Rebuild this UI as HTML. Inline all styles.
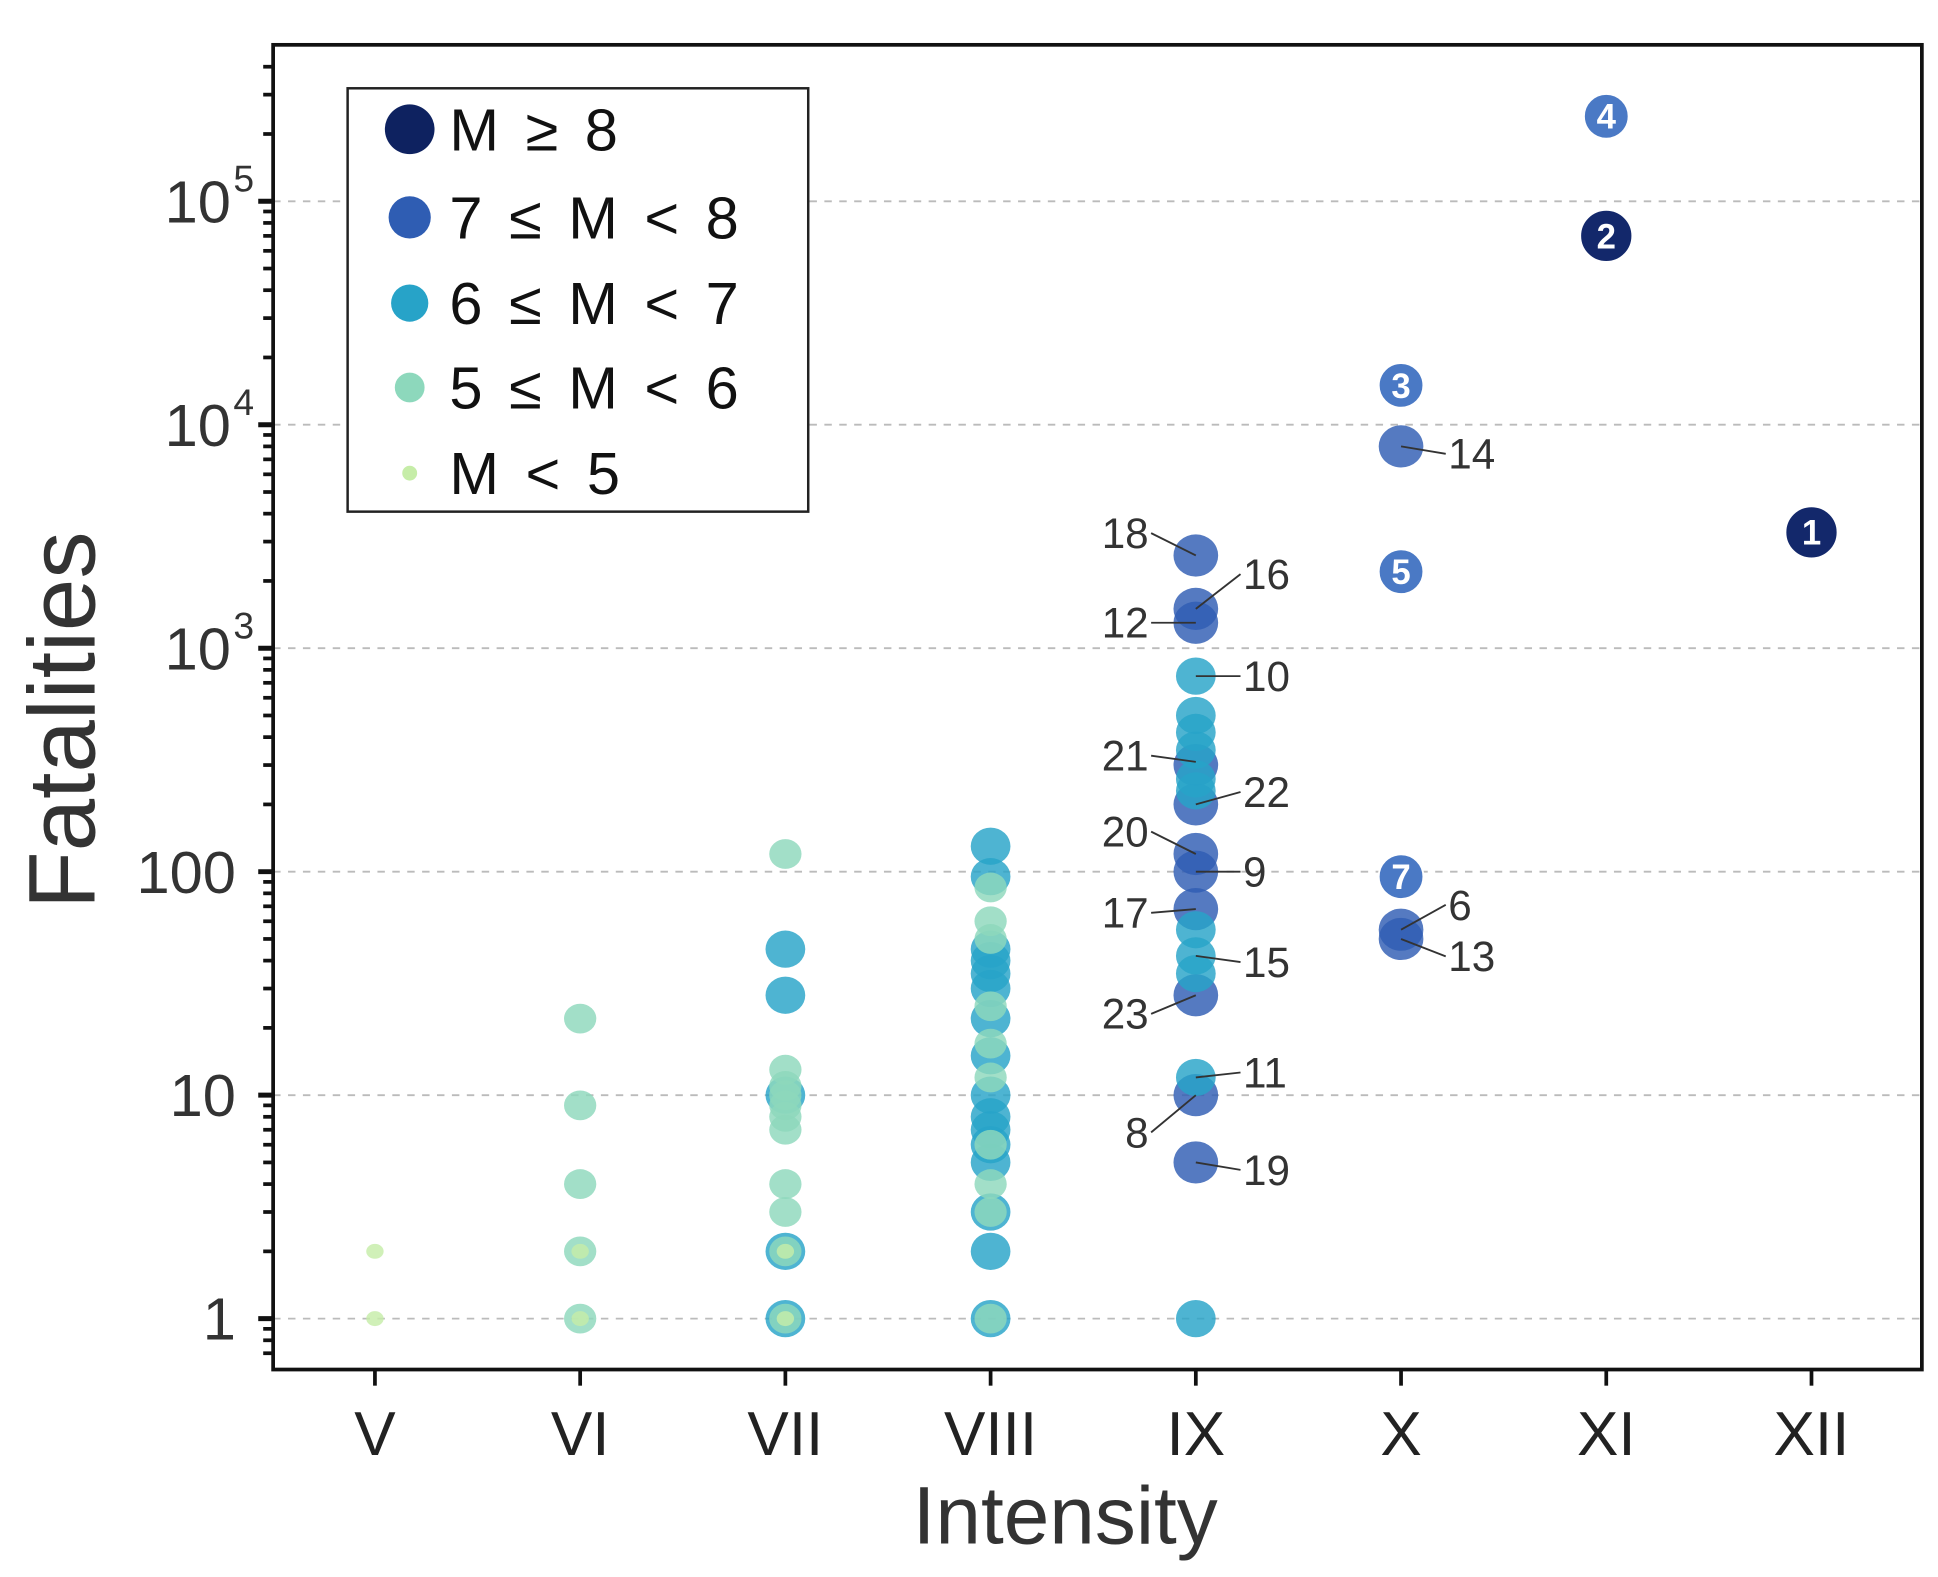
<!DOCTYPE html>
<html><head><meta charset="utf-8"><style>
html,body{margin:0;padding:0;background:#fff;}
svg{display:block;}
text{font-family:"Liberation Sans",sans-serif;}
</style></head><body>
<svg id="chart" width="1938" height="1577" viewBox="0 0 1561 1270" xmlns="http://www.w3.org/2000/svg">
<g id="grid"></g>
<g id="marks"></g>
<g id="annots"></g>
<rect x="220" y="36" width="1328" height="1067" fill="none" stroke="#111" stroke-width="3"/>
<g id="axes"></g>
<text transform="translate(76,580) rotate(-90)" text-anchor="middle" font-size="76" fill="#333">Fatalities</text>
<text x="858" y="1243" text-anchor="middle" font-size="66" fill="#333">Intensity</text>
<g>
<rect x="280" y="71" width="371" height="341" fill="#fff" stroke="#222" stroke-width="2"/>
<g id="legendItems"></g>
</g>
</svg>
<script>
const categories = ["V","VI","VII","VIII","IX","X","XI","XII"];
const classLabels = ["M \u2265  8","7 \u2264 M  <  8","6 \u2264 M  <  7","5 \u2264 M  <  6","M  <  5"];
const yTickValues = [1,10,100,1000,10000,100000];
const yTickLabels = ["1","10","100","10","10","10"];
const yTickExp = ["","","","3","4","5"];
// points: intensity index, fatalities, magnitude class (0: M>=8 ... 4: M<5)
const ptCat = [0,0, 1,1,1,1,1, 1,1,
  2,2,2,2,2,2,2,2,2,2,2, 2,2,2,2,2, 2,2,
  3,3,3,3,3,3,3,3,3,3,3,3,3,3,3,3, 3,3,3,3,3,3,3,3,3,3,
  4,4,4,4,4,4,4,4,4,4,4, 4,4,4,4,4,4,4,4,4,4,4,
  5,5,5];
const ptVal = [2,1, 22,9,4,2,1, 2,1,
  120,13,11,10,9,8,7,4,3,2,1, 45,28,10,2,1, 2,1,
  130,95,45,40,35,30,22,15,10,8,7,6,5,3,2,1, 85,60,50,25,17,12,6,4,3,1,
  2600,1500,1300,200,120,100,68,28,10,5,300, 750,500,420,350,260,230,55,42,35,12,1,
  8000,55,50];
const ptCls = [4,4, 3,3,3,3,3, 4,4,
  3,3,3,3,3,3,3,3,3,3,3, 2,2,2,2,2, 4,4,
  2,2,2,2,2,2,2,2,2,2,2,2,2,2,2,2, 3,3,3,3,3,3,3,3,3,3,
  1,1,1,1,1,1,1,1,1,1,1, 2,2,2,2,2,2,2,2,2,2,2,
  1,1,1];
// numbered events
const numCat = [7,6,5,6,5,5];
const numVal = [3300,70000,15000,240000,2200,95];
const numCls = [0,0,1,1,1,1];
const numLabel = ["1","2","3","4","5","7"];
// annotated points (labels)
const annCat = [4,4,4,4,4,4,4,4,4,4,4,4,4,4,5,5,5];
const annVal = [2600,1500,1300,750,310,200,120,100,68,42,28,12,10,5,8000,55,50];
const annText = ["18","16","12","10","21","22","20","9","17","15","23","11","8","19","14","6","13"];
const annSide = [-1,1,-1,1,-1,1,-1,1,-1,1,-1,1,-1,1,1,1,1];
const annDy = [-18,-28,0,0,-5,-10,-18,0,3,5,15,-4,30,6,6,-20,14];

const colors = ["#0e2260","#2f5db3","#27a3c8","#8dd8bc","#c6eda8"];
const radii = [20,17,15,12,6];
const numFill = ["#13286b","#4a79c5"];

const X0=302, DX=165.3, Y1=1062, DEC=180;
const xs = i => X0 + i*DX;
const ys = v => Y1 - DEC*Math.log10(v);
const NS="http://www.w3.org/2000/svg";
function mk(tag, attrs, parent, txt){const e=document.createElementNS(NS,tag);for(const k in attrs)e.setAttribute(k,attrs[k]);if(txt!==undefined)e.textContent=txt;parent.appendChild(e);return e;}

const grid=document.getElementById('grid');
yTickValues.forEach(v=>{
  const g=mk('line',{x1:220,x2:1548,y1:ys(v),y2:ys(v),stroke:'#bbb','stroke-width':1.5,'stroke-dasharray':'6 6'},grid);
  
  
});

const marks=document.getElementById('marks');
for(let c=0;c<5;c++){
  for(let i=0;i<ptVal.length;i++){ if(ptCls[i]!==c) continue;
    const e=mk('ellipse',{cx:xs(ptCat[i]),cy:ys(ptVal[i]),rx:radii[c]+1,ry:radii[c],fill:colors[c],'fill-opacity':0.82},marks);
    
    
  }
}
for(let i=0;i<numVal.length;i++){
  const cx=xs(numCat[i]), cy=ys(numVal[i]);
  const e=mk('circle',{cx:cx,cy:cy,r:radii[numCls[i]]+1,fill:numFill[numCls[i]],stroke:'#fff','stroke-width':1.5},marks);
  
  
  const t=mk('text',{x:cx,y:cy+10,'text-anchor':'middle','font-size':28,'font-weight':'bold',fill:'#fff'},marks,numLabel[i]);
  
  
}

const ann=document.getElementById('annots');
for(let i=0;i<annVal.length;i++){
  const px=xs(annCat[i]), py=ys(annVal[i]);
  const tx=px+annSide[i]*38, ty=py+annDy[i];
  const l=mk('line',{x1:px,y1:py,x2:tx-annSide[i]*2,y2:ty,stroke:'#333','stroke-width':1.5},ann);
  
  
  const t=mk('text',{x:tx,y:ty+12,'text-anchor':annSide[i]>0?'start':'end','font-size':34,fill:'#333'},ann,annText[i]);
  
  
}

const axes=document.getElementById('axes');
for(let d=0;d<=5;d++){
  for(let m=1;m<=9;m++){
    const v=m*Math.pow(10,d), y=ys(v);
    if(y<38||y>1101) continue;
    const tk=mk('line',{x1:m===1?208:212,x2:221,y1:y,y2:y,stroke:'#111','stroke-width':m===1?4:3},axes);
    
    
  }
}
for(let m=7;m<=9;m++){const y=ys(m*0.1); if(y<1101){const tk=mk('line',{x1:212,x2:221,y1:y,y2:y,stroke:'#111','stroke-width':3},axes);}}
yTickValues.forEach((v,i)=>{
  const t=mk('text',{x:yTickExp[i]?186:190,y:ys(v)+17,'text-anchor':'end','font-size':48,fill:'#333'},axes,yTickLabels[i]);
  
  
  if(yTickExp[i]){
    const s=mk('text',{x:188,y:ys(v)-8,'text-anchor':'start','font-size':30,fill:'#333'},axes,yTickExp[i]);
    
    
  }
});
categories.forEach((c,i)=>{
  const tk=mk('line',{x1:xs(i),x2:xs(i),y1:1102,y2:1116,stroke:'#111','stroke-width':3},axes);
  
  
  const t=mk('text',{x:xs(i),y:1172,'text-anchor':'middle','font-size':50,fill:'#222','font-family':'"Liberation Sans Narrow","Liberation Sans",sans-serif'},axes,c);
  
  
});

const li=document.getElementById('legendItems');
const legY=[104,175,244,312,381];
classLabels.forEach((lab,i)=>{
  const m=mk('circle',{cx:330,cy:legY[i],r:radii[i],fill:colors[i]},li);
  
  
  const t=mk('text',{x:362,y:legY[i]+17,'font-size':48,fill:'#111','xml:space':'preserve','word-spacing':'8'},li,lab);
  
  
});
</script>
</body></html>
